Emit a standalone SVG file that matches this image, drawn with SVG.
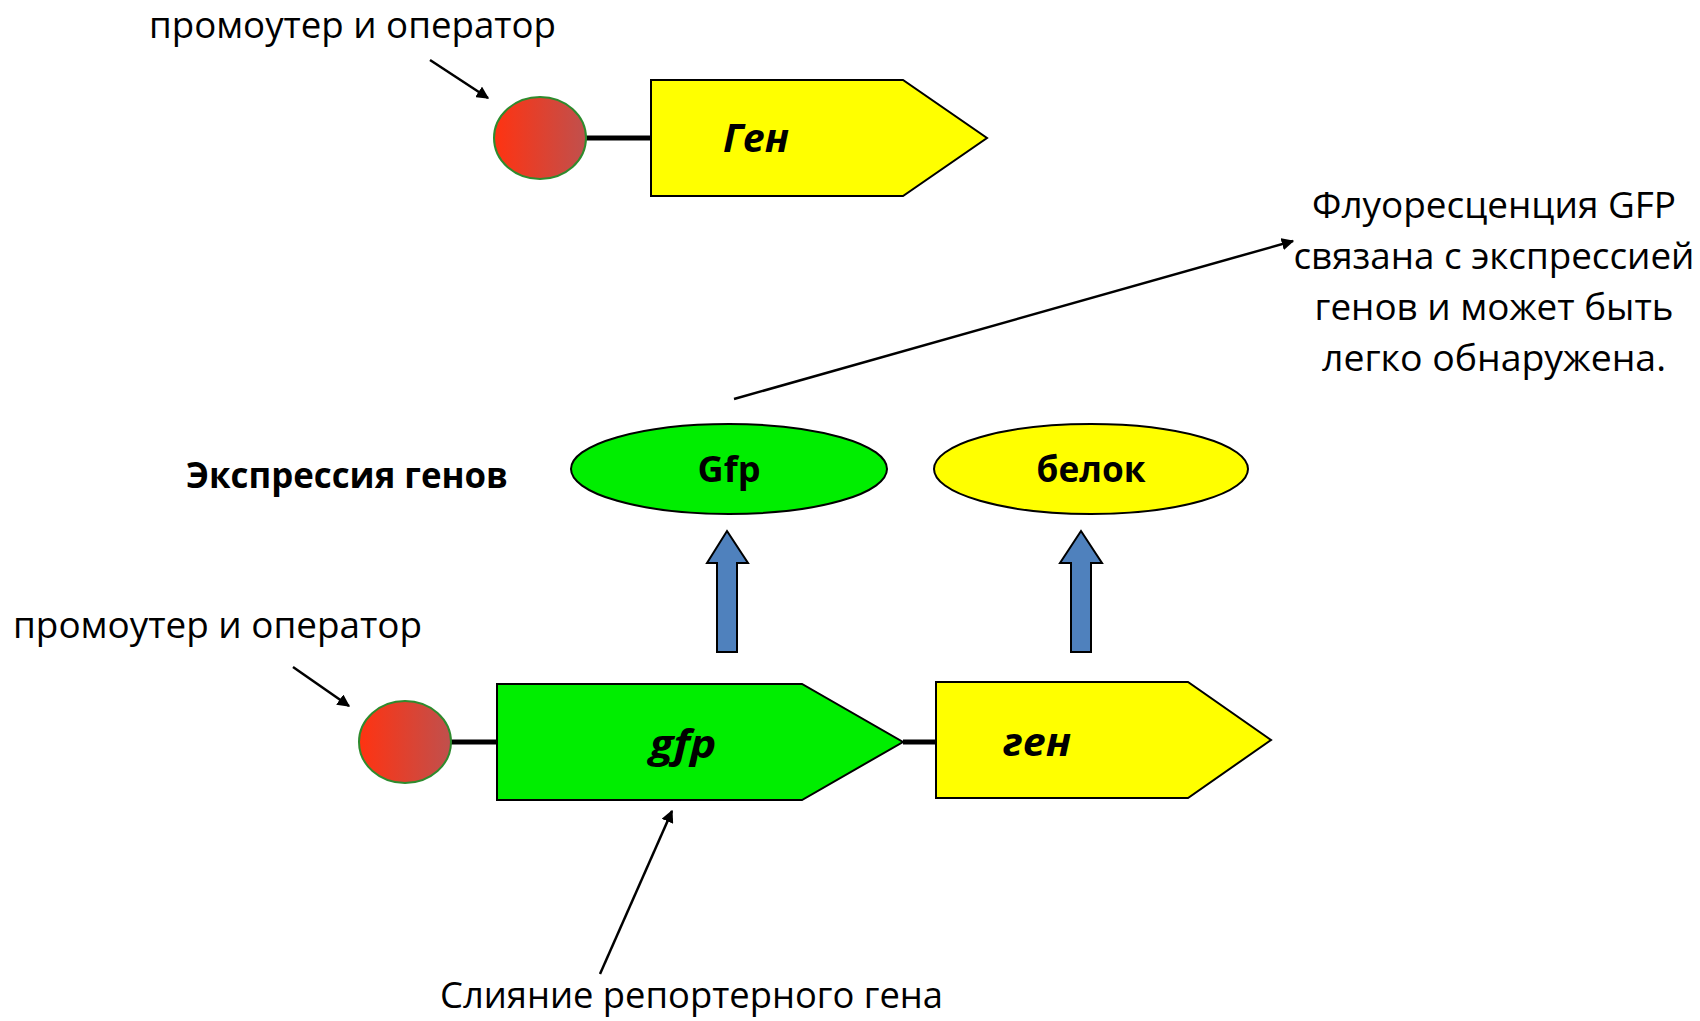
<svg xmlns="http://www.w3.org/2000/svg" width="1700" height="1021" viewBox="0 0 1700 1021">
<defs>
<linearGradient id="redg" x1="0" y1="0" x2="1" y2="0">
<stop offset="0" stop-color="#ff3311"/>
<stop offset="1" stop-color="#c0504d"/>
</linearGradient>
<marker id="ah" viewBox="0 0 10 10" refX="9" refY="5" markerWidth="5" markerHeight="5" orient="auto" markerUnits="strokeWidth">
<path d="M0,0 L10,5 L0,10 z" fill="#000"/>
</marker>
</defs>
<style>
text{font-family:"Open Sans","Noto Sans","Liberation Sans",sans-serif;fill:#000}
.lbl{font-size:36px}
.b{font-weight:bold}
.bi{font-weight:bold;font-style:italic;font-size:40px}
.prom{fill:url(#redg);stroke:#2e8b2e;stroke-width:2}
.box{stroke:#000;stroke-width:2}
.blk{fill:#4f81bd;stroke:#000;stroke-width:2}
.con{stroke:#000;stroke-width:2.5;fill:none}
.bar{stroke:#000;stroke-width:5}
</style>
<g id="connectors">
<line class="bar" x1="586" y1="138" x2="651" y2="138"/>
<line class="bar" x1="451" y1="742" x2="497" y2="742"/>
<line class="bar" x1="903" y1="742" x2="936" y2="742"/>
<line class="con" x1="430" y1="60" x2="488" y2="98" marker-end="url(#ah)"/>
<line class="con" x1="293" y1="667" x2="349" y2="706" marker-end="url(#ah)"/>
<line class="con" x1="734" y1="399" x2="1293" y2="241" marker-end="url(#ah)"/>
<line class="con" x1="600" y1="974" x2="672" y2="811" marker-end="url(#ah)"/>
</g>
<g id="label-top-promoter"><text class="lbl" x="149" y="38" textLength="407" lengthAdjust="spacingAndGlyphs">промоутер и оператор</text></g>
<g id="promoter-top"><ellipse class="prom" cx="540" cy="138" rx="46" ry="41"/></g>
<g id="gene-top">
<polygon class="box" fill="#ffff00" points="651,80 903,80 987,138 903,196 651,196"/>
<text class="bi" x="756" y="152" text-anchor="middle" textLength="66" lengthAdjust="spacingAndGlyphs">Ген</text>
</g>
<g id="label-fluor">
<text class="lbl" x="1494" y="218" text-anchor="middle" textLength="364" lengthAdjust="spacingAndGlyphs">Флуоресценция GFP</text>
<text class="lbl" x="1494" y="269" text-anchor="middle" textLength="401" lengthAdjust="spacingAndGlyphs">связана с экспрессией</text>
<text class="lbl" x="1494" y="320" text-anchor="middle" textLength="359" lengthAdjust="spacingAndGlyphs">генов и может быть</text>
<text class="lbl" x="1494" y="371" text-anchor="middle" textLength="344" lengthAdjust="spacingAndGlyphs">легко обнаружена.</text>
</g>
<g id="label-expr"><text class="lbl b" x="186" y="488" textLength="322" lengthAdjust="spacingAndGlyphs">Экспрессия генов</text></g>
<g id="gfp-protein">
<ellipse class="box" fill="#00ee00" cx="729" cy="469" rx="158" ry="45"/>
<text class="lbl b" x="729" y="482" text-anchor="middle" textLength="63" lengthAdjust="spacingAndGlyphs">Gfp</text>
</g>
<g id="protein">
<ellipse class="box" fill="#ffff00" cx="1091" cy="469" rx="157" ry="45"/>
<text class="lbl b" x="1091" y="482" text-anchor="middle" textLength="109" lengthAdjust="spacingAndGlyphs">белок</text>
</g>
<g id="arrow-gfp"><polygon class="blk" points="727,531 748,563 737,563 737,652 717,652 717,563 707,563"/></g>
<g id="arrow-gene"><polygon class="blk" points="1081,531 1102,563 1091,563 1091,652 1071,652 1071,563 1060,563"/></g>
<g id="label-bottom-promoter"><text class="lbl" x="13" y="638" textLength="409" lengthAdjust="spacingAndGlyphs">промоутер и оператор</text></g>
<g id="promoter-bottom"><ellipse class="prom" cx="405" cy="742" rx="46" ry="41"/></g>
<g id="gfp-gene">
<polygon class="box" fill="#00ee00" points="497,684 802,684 903,742 802,800 497,800"/>
<text class="bi" x="683" y="758" text-anchor="middle" textLength="67" lengthAdjust="spacingAndGlyphs">gfp</text>
</g>
<g id="gene-bottom">
<polygon class="box" fill="#ffff00" points="936,682 1188,682 1271,740 1188,798 936,798"/>
<text class="bi" x="1037" y="756" text-anchor="middle" textLength="68" lengthAdjust="spacingAndGlyphs">ген</text>
</g>
<g id="label-fusion"><text class="lbl" x="440" y="1008" textLength="503" lengthAdjust="spacingAndGlyphs">Слияние репортерного гена</text></g>
</svg>
